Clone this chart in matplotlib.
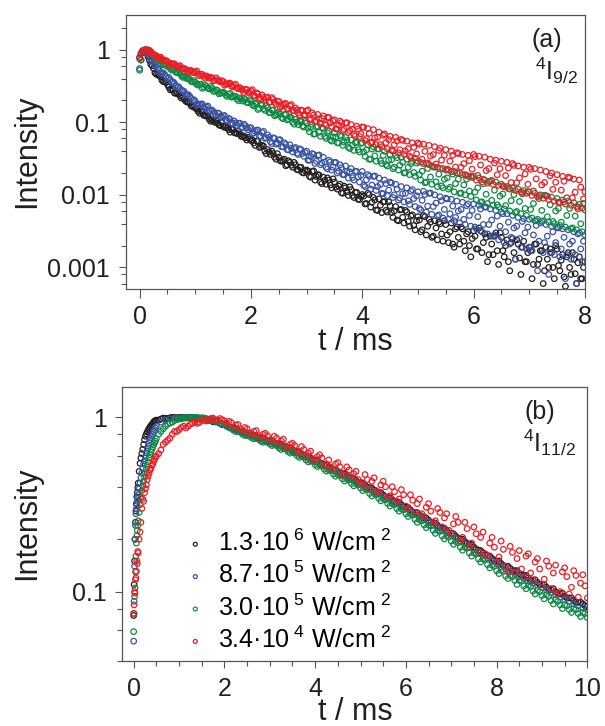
import numpy as np
import matplotlib.pyplot as plt
from matplotlib.ticker import LogLocator, MultipleLocator, NullFormatter

plt.rcParams['font.family'] = ['Liberation Sans', 'DejaVu Sans']
plt.rcParams['mathtext.fontset'] = 'custom'
plt.rcParams['mathtext.rm'] = 'Liberation Sans'
plt.rcParams['mathtext.it'] = 'Liberation Sans:italic'
plt.rcParams['mathtext.default'] = 'regular'

# ---- series ----
LABELS = ['1.3·10$^{\\ 6}$ W/cm$^{\\ 2}$', '8.7·10$^{\\ 5}$ W/cm$^{\\ 2}$',
          '3.0·10$^{\\ 5}$ W/cm$^{\\ 2}$', '3.4·10$^{\\ 4}$ W/cm$^{\\ 2}$']
COLORS = ['#231f20', '#3953a4', '#0c8a43', '#ed1c24']

# panel (a): 4I9/2 decay, sampled every 0.05 ms from t = 0 ...
DT_A = 0.05
black_a = [0.78, 0.96, 0.95, 0.80, 0.63, 0.55, 0.46, 0.44, 0.38, 0.36,
           0.33, 0.28, 0.285, 0.25, 0.245, 0.215, 0.21, 0.19, 0.185, 0.165,
           0.157, 0.142, 0.14, 0.125, 0.122, 0.11, 0.108, 0.100, 0.097, 0.090,
           0.088, 0.087, 0.079, 0.080, 0.072, 0.070, 0.069, 0.063, 0.061, 0.062,
           0.056, 0.052, 0.055, 0.045, 0.048, 0.040, 0.042, 0.036, 0.037, 0.031,
           0.033, 0.029, 0.031, 0.026, 0.028, 0.024, 0.026, 0.022, 0.024, 0.020,
           0.022, 0.018, 0.021, 0.016, 0.019, 0.015, 0.0175, 0.014, 0.016, 0.0125,
           0.015, 0.012, 0.014, 0.0105, 0.0125, 0.0098, 0.0118, 0.0092, 0.0108, 0.0086,
           0.0101, 0.0075, 0.0105, 0.0068, 0.0092, 0.0062, 0.0088, 0.0057, 0.0081, 0.0058,
           0.0071, 0.0049, 0.0069, 0.0044, 0.0063, 0.0041, 0.0058, 0.0037, 0.0053, 0.0033,
           0.0050, 0.0031, 0.0052, 0.0028, 0.0046, 0.0026, 0.0044, 0.0024, 0.0040, 0.0023,
           0.0039, 0.0022, 0.0041, 0.0019, 0.0036, 0.0021, 0.0034, 0.0017, 0.0031, 0.0014,
           0.0032, 0.0018, 0.0035, 0.0016, 0.0029, 0.0012, 0.0027, 0.0015, 0.0030, 0.0011,
           0.0026, 0.0014, 0.0024, 0.0009, 0.0025, 0.0013, 0.0021, 0.0008, 0.0023, 0.0012,
           0.0019, 0.0007, 0.0021, 0.0011, 0.0017, 0.0006, 0.0019, 0.0010, 0.0016, 0.0007,
           0.0018, 0.0009, 0.0015, 0.00055, 0.0016, 0.0008, 0.0013, 0.0006, 0.0014, 0.0007,
           0.0012]
blue_a = [0.55, 0.96, 0.99, 0.87, 0.74, 0.65, 0.58, 0.53, 0.47, 0.455,
          0.40, 0.385, 0.36, 0.32, 0.31, 0.275, 0.265, 0.235, 0.228, 0.20,
          0.195, 0.176, 0.178, 0.16, 0.162, 0.145, 0.147, 0.132, 0.134, 0.12,
          0.122, 0.106, 0.113, 0.098, 0.104, 0.091, 0.097, 0.084, 0.09, 0.079,
          0.084, 0.071, 0.078, 0.064, 0.072, 0.060, 0.067, 0.054, 0.061, 0.050,
          0.057, 0.046, 0.052, 0.042, 0.049, 0.039, 0.045, 0.036, 0.042, 0.034,
          0.040, 0.030, 0.037, 0.027, 0.035, 0.026, 0.033, 0.024, 0.030, 0.022,
          0.028, 0.020, 0.026, 0.019, 0.025, 0.017, 0.023, 0.016, 0.021, 0.015,
          0.021, 0.013, 0.019, 0.012, 0.018, 0.0115, 0.017, 0.0105, 0.016, 0.0098,
          0.015, 0.0092, 0.014, 0.0085, 0.013, 0.0080, 0.0125, 0.0074, 0.0118, 0.0069,
          0.011, 0.0062, 0.0112, 0.0058, 0.0105, 0.0054, 0.0100, 0.0051, 0.0094, 0.0048,
          0.0090, 0.0046, 0.0087, 0.0044, 0.0082, 0.0041, 0.0079, 0.0039, 0.0075, 0.0037,
          0.0075, 0.0034, 0.0072, 0.0031, 0.0068, 0.0029, 0.0064, 0.0027, 0.0061, 0.0024,
          0.0058, 0.0022, 0.0055, 0.0021, 0.0052, 0.0013, 0.0049, 0.0019, 0.0047, 0.0018,
          0.0046, 0.0017, 0.0044, 0.0009, 0.0041, 0.0016, 0.0039, 0.0008, 0.0037, 0.0015,
          0.0036, 0.0014, 0.0034, 0.0007, 0.0033, 0.0013, 0.0031, 0.0006, 0.0030, 0.0012,
          0.0028]
green_a = [0.52, 0.95, 1.0, 0.99, 0.91, 0.83, 0.76, 0.71, 0.67, 0.62,
           0.59, 0.55, 0.535, 0.49, 0.48, 0.44, 0.43, 0.40, 0.39, 0.36,
           0.355, 0.325, 0.335, 0.305, 0.31, 0.288, 0.295, 0.268, 0.275, 0.252,
           0.26, 0.236, 0.243, 0.222, 0.23, 0.209, 0.217, 0.196, 0.205, 0.186,
           0.196, 0.168, 0.183, 0.156, 0.171, 0.146, 0.158, 0.135, 0.147, 0.126,
           0.137, 0.116, 0.127, 0.108, 0.118, 0.100, 0.110, 0.093, 0.102, 0.086,
           0.098, 0.074, 0.094, 0.069, 0.088, 0.064, 0.082, 0.060, 0.076, 0.055,
           0.071, 0.052, 0.066, 0.048, 0.062, 0.045, 0.057, 0.041, 0.053, 0.039,
           0.052, 0.034, 0.049, 0.031, 0.046, 0.029, 0.043, 0.027, 0.040, 0.025,
           0.036, 0.023, 0.035, 0.022, 0.033, 0.020, 0.031, 0.019, 0.029, 0.018,
           0.029, 0.016, 0.027, 0.015, 0.026, 0.014, 0.024, 0.013, 0.023, 0.0125,
           0.022, 0.012, 0.021, 0.011, 0.020, 0.0105, 0.019, 0.010, 0.018, 0.0095,
           0.018, 0.0085, 0.017, 0.008, 0.016, 0.0076, 0.0155, 0.0072, 0.015, 0.0068,
           0.014, 0.0064, 0.013, 0.006, 0.0125, 0.0057, 0.012, 0.0055, 0.0115, 0.0052,
           0.011, 0.0048, 0.0105, 0.0046, 0.010, 0.0044, 0.0097, 0.0042, 0.0093, 0.004,
           0.0089, 0.0038, 0.0085, 0.0036, 0.0082, 0.0034, 0.0078, 0.0033, 0.0074, 0.0031,
           0.0062]
red_a = [0.75, 0.95, 1.0, 0.98, 0.94, 0.85, 0.82, 0.77, 0.75, 0.70,
         0.68, 0.645, 0.635, 0.60, 0.59, 0.555, 0.55, 0.52, 0.515, 0.49,
         0.49, 0.455, 0.46, 0.43, 0.435, 0.405, 0.41, 0.38, 0.385, 0.36,
         0.365, 0.335, 0.342, 0.315, 0.32, 0.295, 0.30, 0.276, 0.283, 0.258,
         0.27, 0.234, 0.254, 0.218, 0.238, 0.205, 0.222, 0.19, 0.206, 0.178,
         0.194, 0.166, 0.18, 0.155, 0.168, 0.144, 0.157, 0.134, 0.147, 0.125,
         0.142, 0.108, 0.135, 0.102, 0.128, 0.096, 0.122, 0.091, 0.116, 0.087,
         0.108, 0.081, 0.104, 0.077, 0.098, 0.072, 0.093, 0.068, 0.088, 0.064,
         0.086, 0.056, 0.082, 0.052, 0.079, 0.049, 0.073, 0.046, 0.069, 0.043,
         0.064, 0.040, 0.062, 0.038, 0.058, 0.036, 0.055, 0.034, 0.052, 0.032,
         0.052, 0.028, 0.050, 0.027, 0.048, 0.025, 0.046, 0.024, 0.044, 0.023,
         0.042, 0.022, 0.040, 0.021, 0.038, 0.020, 0.036, 0.019, 0.035, 0.018,
         0.036, 0.016, 0.034, 0.015, 0.033, 0.0145, 0.031, 0.014, 0.030, 0.0135,
         0.029, 0.013, 0.028, 0.012, 0.027, 0.0115, 0.025, 0.011, 0.024, 0.0105,
         0.024, 0.0098, 0.023, 0.0094, 0.022, 0.009, 0.021, 0.0086, 0.020, 0.0082,
         0.019, 0.0078, 0.018, 0.0075, 0.0175, 0.0072, 0.0165, 0.0069, 0.016, 0.0066,
         0.011]

# ... and the interleaved samples at t = 0.025, 0.075, ...
T0_A2 = 0.025
black_a2 = [0.88, 0.92, 0.91, 0.715, 0.60, 0.48, 0.45, 0.425, 0.363, 0.357,
            0.304, 0.287, 0.253, 0.255, 0.229, 0.226, 0.196, 0.191, 0.169, 0.162,
            0.153, 0.133, 0.142, 0.123, 0.121, 0.103, 0.104, 0.106, 0.092, 0.099,
            0.085, 0.084, 0.073, 0.080, 0.071, 0.075, 0.064, 0.065, 0.057, 0.059,
            0.057, 0.048, 0.055, 0.046, 0.047, 0.037, 0.039, 0.040, 0.033, 0.037,
            0.0295, 0.0298, 0.0252, 0.0295, 0.0256, 0.028, 0.0224, 0.024, 0.0203, 0.0214,
            0.0212, 0.0175, 0.0214, 0.0179, 0.0187, 0.0143, 0.0158, 0.0171, 0.0137, 0.0166,
            0.0128, 0.0132, 0.0107, 0.0132, 0.011, 0.0129, 0.0098, 0.0108, 0.0087, 0.0095,
            0.0096, 0.0076, 0.0101, 0.0079, 0.0085, 0.0061, 0.0072, 0.008, 0.0061, 0.008,
            0.0057, 0.006, 0.0045, 0.0062, 0.0049, 0.0061, 0.0043, 0.0051, 0.0038, 0.0044,
            0.0045, 0.0033, 0.005, 0.0037, 0.0042, 0.0027, 0.0035, 0.0042, 0.0029, 0.0044,
            0.0028, 0.0031, 0.0021, 0.0034, 0.0026, 0.0036, 0.0023, 0.0029, 0.002, 0.0025,
            0.0027, 0.0018, 0.0032, 0.0022, 0.0026, 0.0015, 0.0021, 0.0027, 0.0017, 0.003,
            0.0017, 0.002, 0.0012, 0.0022, 0.0016, 0.0024, 0.00135, 0.0019, 0.0012, 0.0016,
            0.0017, 0.0011, 0.0021, 0.0013, 0.0017, 0.0009, 0.0013, 0.0018, 0.001, 0.002,
            0.00106, 0.00126, 0.00074, 0.0014, 0.001, 0.0016, 0.00082, 0.00116, 0.0007, 0.001]
blue_a2 = [0.72, 0.975, 0.96, 0.79, 0.73, 0.605, 0.556, 0.48, 0.48, 0.425,
           0.415, 0.356, 0.345, 0.301, 0.291, 0.273, 0.241, 0.24, 0.213, 0.204,
           0.173, 0.177, 0.179, 0.155, 0.167, 0.143, 0.141, 0.122, 0.132, 0.118,
           0.124, 0.106, 0.11, 0.096, 0.098, 0.097, 0.086, 0.094, 0.084, 0.084,
           0.07, 0.075, 0.078, 0.065, 0.075, 0.061, 0.062, 0.051, 0.06, 0.052,
           0.0575, 0.046, 0.0496, 0.0416, 0.044, 0.0435, 0.0374, 0.0431, 0.0371, 0.0383,
           0.030, 0.0336, 0.0362, 0.029, 0.0354, 0.0274, 0.0284, 0.0228, 0.0285, 0.0241,
           0.0279, 0.0212, 0.0237, 0.019, 0.0208, 0.0208, 0.0173, 0.0212, 0.0177, 0.0186,
           0.0136, 0.0161, 0.018, 0.0136, 0.0182, 0.013, 0.0139, 0.0104, 0.0143, 0.0116,
           0.0145, 0.01, 0.012, 0.009, 0.0104, 0.0105, 0.0083, 0.0112, 0.0089, 0.0097,
           0.0065, 0.0084, 0.0101, 0.007, 0.0106, 0.0069, 0.0077, 0.0053, 0.0083, 0.0063,
           0.0088, 0.0055, 0.007, 0.0049, 0.006, 0.0063, 0.0046, 0.0071, 0.0052, 0.0061,
           0.0036, 0.005, 0.0064, 0.0039, 0.0068, 0.0039, 0.0045, 0.0028, 0.0051, 0.0037,
           0.0055, 0.0031, 0.0042, 0.0026, 0.0035, 0.0037, 0.0025, 0.0043, 0.003, 0.0036,
           0.0019, 0.0028, 0.0038, 0.0023, 0.0043, 0.0022, 0.0027, 0.0016, 0.0031, 0.0022,
           0.0035, 0.0018, 0.0026, 0.0015, 0.0021, 0.0023, 0.0015, 0.0029, 0.0018, 0.0023]
green_a2 = [0.72, 0.98, 0.945, 0.98, 0.86, 0.84, 0.716, 0.70, 0.62, 0.607,
            0.58, 0.524, 0.534, 0.482, 0.47, 0.416, 0.414, 0.408, 0.365, 0.375,
            0.332, 0.333, 0.294, 0.325, 0.295, 0.312, 0.268, 0.28, 0.246, 0.255,
            0.252, 0.227, 0.249, 0.224, 0.227, 0.198, 0.207, 0.212, 0.188, 0.205,
            0.175, 0.178, 0.15, 0.176, 0.154, 0.17, 0.136, 0.147, 0.123, 0.131,
            0.13, 0.112, 0.129, 0.111, 0.115, 0.094, 0.101, 0.106, 0.089, 0.103,
            0.0828, 0.086, 0.0689, 0.0858, 0.0728, 0.0843, 0.0639, 0.0715, 0.0573, 0.0628,
            0.0628, 0.0522, 0.064, 0.0532, 0.0562, 0.0435, 0.0486, 0.0523, 0.0419, 0.0513,
            0.0389, 0.0416, 0.031, 0.0427, 0.0344, 0.0428, 0.0296, 0.035, 0.0261, 0.0301,
            0.0305, 0.0241, 0.0325, 0.0256, 0.0282, 0.0202, 0.024, 0.027, 0.0203, 0.0274,
            0.019, 0.0212, 0.0147, 0.0231, 0.0176, 0.0243, 0.0151, 0.0193, 0.0133, 0.0164,
            0.0172, 0.0127, 0.0194, 0.0143, 0.0165, 0.0106, 0.0137, 0.0165, 0.0113, 0.0173,
            0.0109, 0.0125, 0.0079, 0.0142, 0.0102, 0.0153, 0.0084, 0.0116, 0.0073, 0.0096,
            0.0103, 0.0071, 0.0122, 0.0083, 0.0101, 0.0059, 0.0081, 0.0103, 0.0065, 0.0111,
            0.0063, 0.0076, 0.0044, 0.0089, 0.0061, 0.0099, 0.005, 0.0073, 0.0043, 0.006,
            0.0065, 0.0042, 0.008, 0.0052, 0.0065, 0.0035, 0.0051, 0.0068, 0.004, 0.0076]
red_a2 = [0.89, 0.95, 1.0, 0.92, 0.895, 0.84, 0.768, 0.79, 0.72, 0.708,
          0.634, 0.64, 0.638, 0.58, 0.602, 0.544, 0.539, 0.492, 0.517, 0.481,
          0.508, 0.437, 0.456, 0.404, 0.418, 0.414, 0.373, 0.408, 0.368, 0.374,
          0.324, 0.338, 0.346, 0.306, 0.333, 0.289, 0.29, 0.256, 0.282, 0.256,
          0.281, 0.228, 0.246, 0.207, 0.22, 0.218, 0.189, 0.218, 0.188, 0.196,
          0.16, 0.173, 0.181, 0.152, 0.175, 0.144, 0.147, 0.124, 0.145, 0.127,
          0.147, 0.112, 0.126, 0.102, 0.112, 0.113, 0.095, 0.117, 0.098, 0.104,
          0.0812, 0.0913, 0.099, 0.0799, 0.0984, 0.0766, 0.0801, 0.0646, 0.0812, 0.0693,
          0.0854, 0.0595, 0.0705, 0.0529, 0.0612, 0.0623, 0.0493, 0.0664, 0.0525, 0.0577,
          0.0413, 0.049, 0.0554, 0.0418, 0.0563, 0.0402, 0.0433, 0.0326, 0.0451, 0.0366,
          0.0496, 0.0309, 0.0398, 0.0276, 0.0343, 0.0359, 0.0266, 0.0408, 0.0301, 0.035,
          0.0226, 0.0291, 0.0351, 0.0242, 0.0371, 0.024, 0.0269, 0.0186, 0.0295, 0.0226,
          0.0336, 0.0185, 0.0258, 0.0163, 0.0216, 0.023, 0.0158, 0.0274, 0.0189, 0.023,
          0.0133, 0.0184, 0.0234, 0.0148, 0.0255, 0.0147, 0.0171, 0.0108, 0.0194, 0.014,
          0.0225, 0.0113, 0.0166, 0.0098, 0.0137, 0.0148, 0.0096, 0.0183, 0.0119, 0.0149,
          0.0079, 0.0116, 0.0154, 0.0091, 0.0172, 0.0091, 0.0109, 0.0064, 0.0128, 0.0088]

# panel (b): 4I11/2 rise and decay
t_rise_b = [0.00, 0.01, 0.02, 0.03, 0.04, 0.05, 0.06, 0.07, 0.08, 0.09, 0.10,
            0.12, 0.14, 0.16, 0.18, 0.20, 0.22, 0.24, 0.26, 0.28, 0.30,
            0.32, 0.34, 0.36, 0.38, 0.40, 0.42, 0.44, 0.46, 0.48]
black_rise_b = [0.073, 0.11, 0.15, 0.2, 0.25, 0.29, 0.32, 0.35, 0.37, 0.395, 0.42,
                0.49, 0.545, 0.585, 0.62, 0.655, 0.7, 0.745, 0.78, 0.805, 0.825,
                0.845, 0.865, 0.88, 0.895, 0.91, 0.925, 0.94, 0.952, 0.96]
blue_rise_b = [0.052, 0.088, 0.14, 0.2, 0.24, 0.28, 0.30, 0.315, 0.33, 0.345, 0.36,
               0.39, 0.42, 0.45, 0.48, 0.51, 0.54, 0.565, 0.595, 0.625, 0.655,
               0.685, 0.715, 0.745, 0.765, 0.78, 0.80, 0.83, 0.85, 0.87]
green_rise_b = [0.059, 0.075, 0.094, 0.105, 0.13, 0.16, 0.19, 0.21, 0.225, 0.24, 0.255,
                0.285, 0.315, 0.345, 0.38, 0.405, 0.43, 0.455, 0.48, 0.505, 0.53,
                0.555, 0.585, 0.61, 0.635, 0.655, 0.675, 0.695, 0.715, 0.73]
red_rise_b = [0.075, 0.084, 0.10, 0.098, 0.117, 0.12, 0.131, 0.15, 0.145, 0.17, 0.167,
              0.2, 0.22, 0.25, 0.3, 0.34, 0.33, 0.37, 0.39, 0.41, 0.44,
              0.46, 0.48, 0.5, 0.51, 0.53, 0.54, 0.56, 0.575, 0.59]

# main part, sampled every 0.1 ms from t = 0.5
T0_B, DT_B = 0.5, 0.1
black_b = [0.965, 0.978, 0.988, 0.995, 0.999, 1.0, 1.0, 0.998, 0.994, 0.988,
           0.98, 0.97, 0.958, 0.944, 0.928, 0.91, 0.887, 0.865, 0.843, 0.824,
           0.803, 0.789, 0.774, 0.76, 0.746, 0.733, 0.716, 0.70, 0.684, 0.668,
           0.653, 0.635, 0.618, 0.601, 0.585, 0.569, 0.552, 0.536, 0.52, 0.505,
           0.49, 0.475, 0.461, 0.448, 0.435, 0.422, 0.408, 0.395, 0.383, 0.371,
           0.359, 0.348, 0.337, 0.326, 0.316, 0.305, 0.295, 0.285, 0.275, 0.266,
           0.257, 0.248, 0.24, 0.232, 0.224, 0.216, 0.208, 0.201, 0.194, 0.187,
           0.18, 0.173, 0.167, 0.161, 0.155, 0.15, 0.145, 0.14, 0.136, 0.132,
           0.127, 0.124, 0.12, 0.116, 0.113, 0.11, 0.106, 0.103, 0.1, 0.097,
           0.094, 0.092, 0.089, 0.087, 0.085, 0.082]
blue_b = [0.89, 0.94, 0.965, 0.98, 0.99, 0.996, 1.0, 1.0, 0.997, 0.99,
          0.982, 0.972, 0.958, 0.943, 0.926, 0.907, 0.876, 0.854, 0.832, 0.813,
          0.792, 0.778, 0.763, 0.749, 0.735, 0.722, 0.705, 0.689, 0.673, 0.657,
          0.642, 0.624, 0.607, 0.59, 0.575, 0.559, 0.542, 0.526, 0.51, 0.496,
          0.481, 0.466, 0.452, 0.44, 0.427, 0.414, 0.399, 0.386, 0.375, 0.363,
          0.351, 0.34, 0.33, 0.319, 0.309, 0.298, 0.287, 0.277, 0.267, 0.259,
          0.25, 0.241, 0.233, 0.226, 0.218, 0.21, 0.201, 0.194, 0.188, 0.181,
          0.174, 0.167, 0.161, 0.156, 0.15, 0.145, 0.139, 0.135, 0.131, 0.127,
          0.122, 0.119, 0.115, 0.112, 0.109, 0.106, 0.102, 0.099, 0.096, 0.093,
          0.09, 0.088, 0.085, 0.083, 0.081, 0.079]
green_b = [0.755, 0.83, 0.89, 0.93, 0.96, 0.978, 0.99, 0.996, 1.0, 1.0,
           0.995, 0.985, 0.97, 0.952, 0.932, 0.91, 0.88, 0.845, 0.835, 0.80,
           0.79, 0.765, 0.76, 0.732, 0.728, 0.705, 0.698, 0.67, 0.665, 0.638,
           0.632, 0.604, 0.598, 0.57, 0.564, 0.537, 0.532, 0.505, 0.5, 0.474,
           0.47, 0.445, 0.442, 0.418, 0.416, 0.394, 0.39, 0.366, 0.365, 0.344,
           0.341, 0.321, 0.32, 0.30, 0.299, 0.28, 0.279, 0.26, 0.259, 0.242,
           0.241, 0.225, 0.225, 0.209, 0.209, 0.195, 0.194, 0.18, 0.18, 0.167,
           0.167, 0.154, 0.154, 0.143, 0.142, 0.132, 0.133, 0.123, 0.124, 0.116,
           0.116, 0.108, 0.109, 0.101, 0.102, 0.095, 0.096, 0.089, 0.09, 0.084,
           0.084, 0.079, 0.08, 0.075, 0.076, 0.071]
red_b = [0.60, 0.65, 0.72, 0.76, 0.83, 0.85, 0.89, 0.89, 0.93, 0.925,
         0.96, 0.955, 0.985, 0.97, 0.985, 0.955, 0.95, 0.88, 0.91, 0.84,
         0.86, 0.80, 0.84, 0.77, 0.81, 0.74, 0.78, 0.71, 0.75, 0.67,
         0.71, 0.64, 0.68, 0.60, 0.64, 0.565, 0.61, 0.53, 0.57, 0.505,
         0.55, 0.47, 0.52, 0.455, 0.49, 0.425, 0.47, 0.39, 0.45, 0.37,
         0.43, 0.35, 0.40, 0.33, 0.385, 0.31, 0.36, 0.285, 0.34, 0.27,
         0.32, 0.25, 0.30, 0.235, 0.28, 0.215, 0.27, 0.195, 0.25, 0.18,
         0.235, 0.17, 0.22, 0.16, 0.205, 0.148, 0.195, 0.14, 0.182, 0.13,
         0.172, 0.122, 0.165, 0.117, 0.155, 0.11, 0.15, 0.104, 0.142, 0.10,
         0.137, 0.097, 0.132, 0.093, 0.125, 0.092]
# interleaved samples at t = 0.55, 0.65, ...
T0_B2 = 0.55
black_b2 = [0.965, 0.99, 0.985, 1.0, 0.995, 1.0, 0.993, 1.0, 0.985, 0.99,
            0.968, 0.975, 0.944, 0.948, 0.91, 0.91, 0.866, 0.865, 0.825, 0.825,
            0.787, 0.792, 0.758, 0.762, 0.731, 0.734, 0.70, 0.70, 0.668, 0.67,
            0.636, 0.635, 0.603, 0.60, 0.57, 0.568, 0.537, 0.535, 0.507, 0.504,
            0.477, 0.474, 0.45, 0.447, 0.424, 0.42, 0.397, 0.394, 0.372, 0.37,
            0.35, 0.347, 0.328, 0.325, 0.307, 0.304, 0.286, 0.284, 0.268, 0.265,
            0.25, 0.247, 0.233, 0.231, 0.217, 0.215, 0.202, 0.2, 0.189, 0.186,
            0.175, 0.172, 0.162, 0.16, 0.151, 0.15, 0.141, 0.14, 0.132, 0.132,
            0.124, 0.124, 0.116, 0.117, 0.11, 0.11, 0.103, 0.104, 0.097, 0.098,
            0.092, 0.092, 0.087, 0.087, 0.083]
green_b2 = [0.80, 0.86, 0.915, 0.94, 0.972, 0.982, 0.997, 0.99, 1.0, 0.992,
            0.993, 0.972, 0.966, 0.938, 0.925, 0.888, 0.87, 0.83, 0.823, 0.788,
            0.782, 0.754, 0.75, 0.72, 0.722, 0.69, 0.69, 0.655, 0.658, 0.624,
            0.625, 0.59, 0.592, 0.556, 0.558, 0.523, 0.526, 0.492, 0.495, 0.46,
            0.465, 0.432, 0.437, 0.405, 0.41, 0.38, 0.385, 0.354, 0.36, 0.332,
            0.337, 0.31, 0.316, 0.29, 0.295, 0.27, 0.275, 0.25, 0.255, 0.233,
            0.238, 0.216, 0.222, 0.201, 0.206, 0.187, 0.191, 0.173, 0.178, 0.16,
            0.165, 0.148, 0.153, 0.137, 0.14, 0.127, 0.131, 0.119, 0.122, 0.11,
            0.115, 0.104, 0.107, 0.097, 0.1, 0.091, 0.094, 0.085, 0.088, 0.08,
            0.083, 0.076, 0.079, 0.072, 0.075]
red_b2 = [0.62, 0.70, 0.74, 0.80, 0.83, 0.875, 0.87, 0.915, 0.94, 0.935,
          0.97, 0.96, 0.99, 0.965, 0.97, 0.925, 0.935, 0.905, 0.855, 0.875,
          0.815, 0.83, 0.785, 0.80, 0.785, 0.735, 0.76, 0.735, 0.685, 0.70,
          0.69, 0.63, 0.655, 0.625, 0.58, 0.595, 0.585, 0.54, 0.52, 0.54,
          0.52, 0.48, 0.50, 0.475, 0.44, 0.41, 0.44, 0.43, 0.38, 0.41,
          0.40, 0.355, 0.375, 0.34, 0.36, 0.30, 0.335, 0.32, 0.28, 0.305,
          0.29, 0.255, 0.285, 0.265, 0.225, 0.245, 0.25, 0.205, 0.23, 0.19,
          0.215, 0.205, 0.165, 0.19, 0.18, 0.158, 0.175, 0.13, 0.168, 0.155,
          0.135, 0.16, 0.128, 0.148, 0.135, 0.118, 0.14, 0.128, 0.098, 0.13,
          0.122, 0.106, 0.124, 0.112, 0.108]


def style_axis(ax, xmajor_len):
    for sp in ax.spines.values():
        sp.set_linewidth(0.9)
        sp.set_color('#555555')
    ax.tick_params(axis='both', which='both', direction='out', color='#555555',
                   width=0.8, labelsize=18, labelcolor='#231f20')
    ax.tick_params(axis='y', which='major', length=5.3, pad=6)
    ax.tick_params(axis='y', which='minor', length=3.5)
    ax.tick_params(axis='x', which='major', length=xmajor_len, pad=4.5)
    ax.tick_params(axis='x', which='minor', length=3.5)
    ax.xaxis.set_minor_locator(MultipleLocator(0.5))
    ax.yaxis.set_minor_locator(LogLocator(base=10, subs=(2, 4, 6, 8), numticks=20))
    ax.yaxis.set_minor_formatter(NullFormatter())


def dots(ax, t, y, color, label=None):
    return ax.scatter(t, y, s=16, facecolors='none', edgecolors=color,
                      linewidths=0.9, label=label)


def steps(t0, dt, vals):
    return t0 + dt * np.arange(len(vals))


fig = plt.figure(figsize=(6.05, 7.26), dpi=100)
ax_a = fig.add_axes([0.2078, 0.6015, 0.759, 0.3778])
ax_b = fig.add_axes([0.2022, 0.0895, 0.7686, 0.3778])

# (a)
for v1, v2, c in zip([black_a, blue_a, green_a, red_a],
                     [black_a2, blue_a2, green_a2, red_a2], COLORS):
    dots(ax_a, steps(0, DT_A, v1), v1, c)
    dots(ax_a, steps(T0_A2, DT_A, v2), v2, c)
ax_a.set_yscale('log')
ax_a.set_xlim(-0.25, 8)
ax_a.set_ylim(5e-4, 3)
ax_a.set_xticks([0, 2, 4, 6, 8])
ax_a.set_yticks([0.001, 0.01, 0.1, 1])
ax_a.set_yticklabels(['0.001', '0.01', '0.1', '1'])
style_axis(ax_a, 6.5)
ax_a.text(0.917, 0.909, '(a)', transform=ax_a.transAxes, fontsize=18,
          ha='center', va='center', color='#231f20')
ax_a.text(0.892, 0.796, '$^{4}$I$_{9/2}$', transform=ax_a.transAxes, fontsize=18,
          ha='left', va='center', color='#231f20')

# (b)
handles = []
extra_b = {0: black_b2, 2: green_b2, 3: red_b2}
for i, (rise, main, c, lab) in enumerate(zip(
        [black_rise_b, blue_rise_b, green_rise_b, red_rise_b],
        [black_b, blue_b, green_b, red_b], COLORS, LABELS)):
    dots(ax_b, t_rise_b, rise, c)
    h = dots(ax_b, steps(T0_B, DT_B, main), main, c, label=lab)
    if i in extra_b:
        dots(ax_b, steps(T0_B2, DT_B, extra_b[i]), extra_b[i], c)
    handles.append(h)
ax_b.set_yscale('log')
ax_b.set_xlim(-0.25, 10)
ax_b.set_ylim(0.04, 1.5)
ax_b.set_xticks([0, 2, 4, 6, 8, 10])
ax_b.set_yticks([0.1, 1])
ax_b.set_yticklabels(['0.1', '1'])
style_axis(ax_b, 5.3)
ax_b.tick_params(axis='x', which='major', pad=6)
ax_b.text(0.898, 0.908, '(b)', transform=ax_b.transAxes, fontsize=18,
          ha='center', va='center', color='#231f20')
ax_b.text(0.862, 0.795, '$^{4}$I$_{11/2}$', transform=ax_b.transAxes, fontsize=18,
          ha='left', va='center', color='#231f20')
ax_b.legend(handles=handles, loc='upper left', bbox_to_anchor=(0.13, 0.48),
            frameon=False, fontsize=18, handlelength=1.0, handletextpad=0.4,
            labelspacing=0.24, borderpad=0, borderaxespad=0, markerscale=0.7)

fig.text(27.5 / 605, 1 - 151.5 / 726, 'Intensity', rotation=90, fontsize=22,
         ha='center', va='center', color='#231f20')
fig.text(27.5 / 605, 1 - 523.5 / 726, 'Intensity', rotation=90, fontsize=22,
         ha='center', va='center', color='#231f20')
fig.text(355 / 605, 1 - 342 / 726, 't / ms', fontsize=22,
         ha='center', va='center', color='#231f20')
fig.text(355 / 605, 1 - 712 / 726, 't / ms', fontsize=22,
         ha='center', va='center', color='#231f20')

fig.savefig('out.png', dpi=100)
